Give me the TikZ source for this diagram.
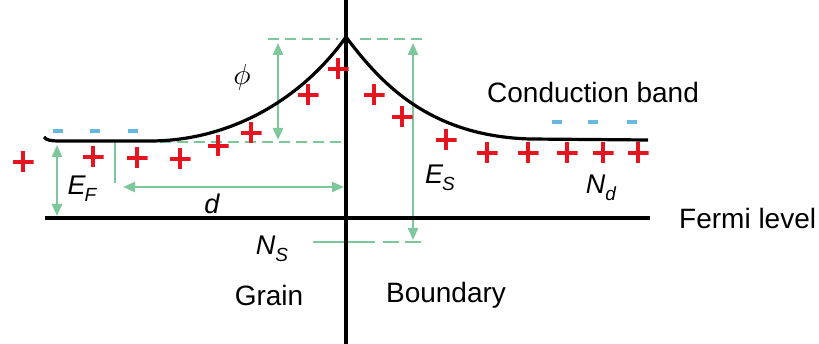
\documentclass[tikz,border=0pt]{standalone}
\usepackage{fontspec}
\usepackage{graphicx}
\setmainfont{Liberation Sans}
\usetikzlibrary{arrows.meta}
\definecolor{mint}{RGB}{125,200,155}
\definecolor{dred}{RGB}{230,20,30}
\definecolor{lblue}{RGB}{100,185,225}
\newcommand\mysubsz{\fontsize{19}{22}\selectfont}
\begin{document}
\begin{tikzpicture}[x=1pt,y=-1pt,
  blk/.style={line width=3.2pt,black},
  grn/.style={line width=2.3pt,mint},
  gdash/.style={grn,dash pattern=on 11pt off 6pt},
  garrow/.style={grn,{Triangle[width=10pt,length=12pt]}-{Triangle[width=10pt,length=12pt]}},
  txt/.style={inner sep=0pt,font=\fontsize{28}{32}\selectfont},
  lbl/.style={inner sep=0pt,font=\fontsize{27}{30}\selectfont\itshape},
  plus/.style={inner sep=0pt,minimum size=21pt,path picture={
     \draw[dred,line width=3.8pt] (path picture bounding box.west) -- (path picture bounding box.east);
     \draw[dred,line width=3.8pt] (path picture bounding box.north) -- (path picture bounding box.south);}},
  minus/.style={inner sep=0pt,minimum width=10pt,minimum height=3.5pt,fill=lblue}]
\useasboundingbox (0,0) rectangle (819,344);
% coordinates
\coordinate (vt) at (346,0);
\coordinate (vb) at (346,344);
\coordinate (fl) at (45,218);
\coordinate (fr) at (650,218);
\coordinate (peak) at (346,37);
% green dashed guides
\coordinate (dl1) at (160,142); \coordinate (dl2) at (345,142);
\draw[gdash] (dl1) -- (dl2);
\coordinate (tl1) at (268,39); \coordinate (tl2) at (338,39);
\draw[gdash] (tl1) -- (tl2);
\coordinate (tr1) at (360,39); \coordinate (tr2) at (425,39);
\draw[gdash] (tr1) -- (tr2);
\coordinate (bl1) at (313,242); \coordinate (bl2) at (375,242); \coordinate (bl3) at (421,242);
\draw[grn] (bl1) -- (bl2);
\draw[grn,dash pattern=on 16pt off 6pt] ([xshift=8pt]bl2) -- (bl3);
% arrows
\coordinate (pt) at (278,43); \coordinate (pb) at (278,140);
\draw[garrow] (pt) -- (pb);
\coordinate (et) at (413,43); \coordinate (eb) at (413,240);
\draw[garrow] (et) -- (eb);
\coordinate (ft) at (57,145); \coordinate (fb) at (57,216);
\draw[garrow] (ft) -- (fb);
\coordinate (st) at (115,142); \coordinate (sb) at (115,183);
\draw[grn] (st) -- (sb);
\coordinate (dl) at (123,187); \coordinate (dr) at (344,187);
\draw[garrow] (dl) -- (dr);
% black lines
\draw[blk] (vt) -- (vb);
\draw[blk] (fl) -- (fr);
\coordinate (cl) at (44,137);
\coordinate (cs) at (150,141);
\coordinate (ce) at (530,139);
\coordinate (cr) at (648,140);
\draw[blk,line join=round] (cl) .. controls (46,140) and (50,141) .. (60,141)
  -- (cs) .. controls (225,141) and (298,104) .. (peak)
  .. controls (380,82) and (428,136) .. (ce) -- (cr);
% minus signs
\foreach \x/\n in {58/m1,95/m2,133/m3} \node[minus] (\n) at (\x,131) {};
\foreach \x/\n in {557/m4,593/m5,632/m6} \node[minus] (\n) at (\x,122) {};
% plus signs
\foreach \x/\y/\n in {23/162/p1,93/157/p2,137/158/p3,180/159/p4,218/146/p5,251/133/p6,308/95/p7,338/69/p8,
  374/95/p9,402/117/p10,446/140/p11,487/153/p12,528/153/p13,567/153/p14,603/153/p15,638/153/p16}
  \node[plus] (\n) at (\x,\y) {};
% labels
\node[txt,anchor=base west] (cb) at (487,103) {Conduction band};
\node[txt,anchor=west] (fermi) at (679,218) {Fermi level};
\node[txt] (grain) at (269,295) {Grain};
\node[txt] (bound) at (446,295) {Boundary};
\node[lbl] (EF) at (82,189) {E\kern-1pt\raisebox{-7pt}{\mysubsz F}};
\node[lbl] (Dd) at (212,204) {d};
\node[inner sep=0pt] (phi) at (242,77) {\scalebox{2.9}{$\phi$}};
\node[lbl] (ES) at (440,178) {E\kern-1pt\raisebox{-7pt}{\mysubsz S}};
\node[lbl] (Nd) at (601,188) {N\raisebox{-7pt}{\mysubsz d}};
\node[lbl] (NS) at (272,249) {N\raisebox{-7pt}{\mysubsz S}};
\end{tikzpicture}
\end{document}
